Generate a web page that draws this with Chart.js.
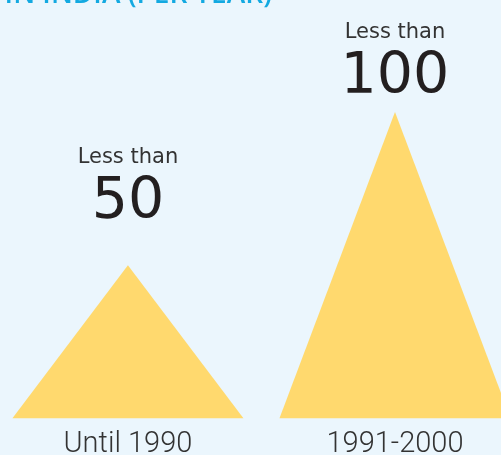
<!DOCTYPE html>
<html>
<head>
<meta charset="utf-8">
<script src="https://cdn.jsdelivr.net/npm/chart.js@4.4.0/dist/chart.umd.min.js"></script>
<style>
    html, body { margin: 0; padding: 0; background: #ebf6fd; }
    #wrap { width: 501px; height: 455px; position: relative; overflow: hidden; }
</style>
</head>
<body>
<div id="wrap"><canvas id="chart"></canvas></div>
<script>
// Data
const categories = ['Until 1990', '1991-2000'];
const upperLimits = [50, 100];
const limitPrefix = ['Less than', 'Less than'];
const titleText = 'IN INDIA (PER YEAR)';

// Draws each bar as a triangle (apex at the value, base on zero)
const trianglePlugin = {
    id: 'triangles',
    afterDatasetsDraw(chart, args, opts) {
        const ctx = chart.ctx;
        const meta = chart.getDatasetMeta(0);
        ctx.save();
        ctx.fillStyle = opts.color;
        meta.data.forEach(bar => {
            const p = bar.getProps(['x', 'y', 'base', 'width'], true);
            ctx.beginPath();
            ctx.moveTo(p.x - p.width / 2, p.base);
            ctx.lineTo(p.x, p.y);
            ctx.lineTo(p.x + p.width / 2, p.base);
            ctx.closePath();
            ctx.fill();
        });
        ctx.restore();
    }
};

// "Less than" + big number above each apex
const limitLabelPlugin = {
    id: 'limitLabels',
    afterDatasetsDraw(chart, args, opts) {
        const ctx = chart.ctx;
        const meta = chart.getDatasetMeta(0);
        ctx.save();
        ctx.textAlign = 'center';
        ctx.textBaseline = 'alphabetic';
        meta.data.forEach((bar, i) => {
            const numY = bar.y - opts.gaps[i];
            ctx.fillStyle = opts.numberColor;
            ctx.font = opts.numberFont;
            ctx.fillText(String(upperLimits[i]), bar.x, numY);
            ctx.fillStyle = opts.prefixColor;
            ctx.font = opts.prefixFont;
            ctx.fillText(limitPrefix[i], bar.x, numY - opts.prefixGap);
        });
        ctx.restore();
    }
};

// Title is cut off by the top edge in the original
const cutTitlePlugin = {
    id: 'cutTitle',
    afterDraw(chart, args, opts) {
        const ctx = chart.ctx;
        ctx.save();
        ctx.fillStyle = opts.color;
        ctx.font = opts.font;
        ctx.textAlign = 'right';
        ctx.textBaseline = 'alphabetic';
        ctx.fillText(titleText, opts.right, opts.baseline);
        ctx.restore();
    }
};

const ctx = document.getElementById('chart').getContext('2d');

new Chart(ctx, {
    type: 'bar',
    data: {
        datasets: [{
            data: upperLimits.map((v, i) => ({ x: i, y: v })),
            backgroundColor: 'rgba(0,0,0,0)',
            borderWidth: 0,
            barThickness: 231
        }]
    },
    options: {
        responsive: true,
        maintainAspectRatio: false,
        animation: false,
        // the axis labels sit partly below the visible area in the original
        layout: { padding: { top: 0, left: 0, right: 0, bottom: -16 } },
        plugins: {
            legend: { display: false },
            tooltip: { enabled: false },
            triangles: { color: '#ffd96e' },
            limitLabels: {
                gaps: [47, 19],
                prefixGap: 55,
                numberColor: '#231f20',
                prefixColor: '#333333',
                numberFont: '57px "DejaVu Sans"',
                prefixFont: '21px "DejaVu Sans"'
            },
            cutTitle: {
                color: '#13a9e1',
                font: '600 28px "Open Sans"',
                right: 272,
                baseline: 3
            }
        },
        scales: {
            x: {
                type: 'linear',
                offset: false,
                min: -0.479,
                max: 1.397,
                grid: { display: false, drawTicks: false },
                border: { display: false },
                afterBuildTicks: scale => {
                    scale.ticks = categories.map((c, i) => ({ value: i }));
                },
                ticks: {
                    callback: v => categories[v],
                    autoSkip: false,
                    maxRotation: 0,
                    padding: 9,
                    color: '#333333',
                    font: { family: 'Roboto', size: 29, weight: 300 }
                }
            },
            y: {
                display: false,
                min: 0,
                max: 136.6
            }
        }
    },
    plugins: [trianglePlugin, limitLabelPlugin, cutTitlePlugin]
});
</script>
</body>
</html>
